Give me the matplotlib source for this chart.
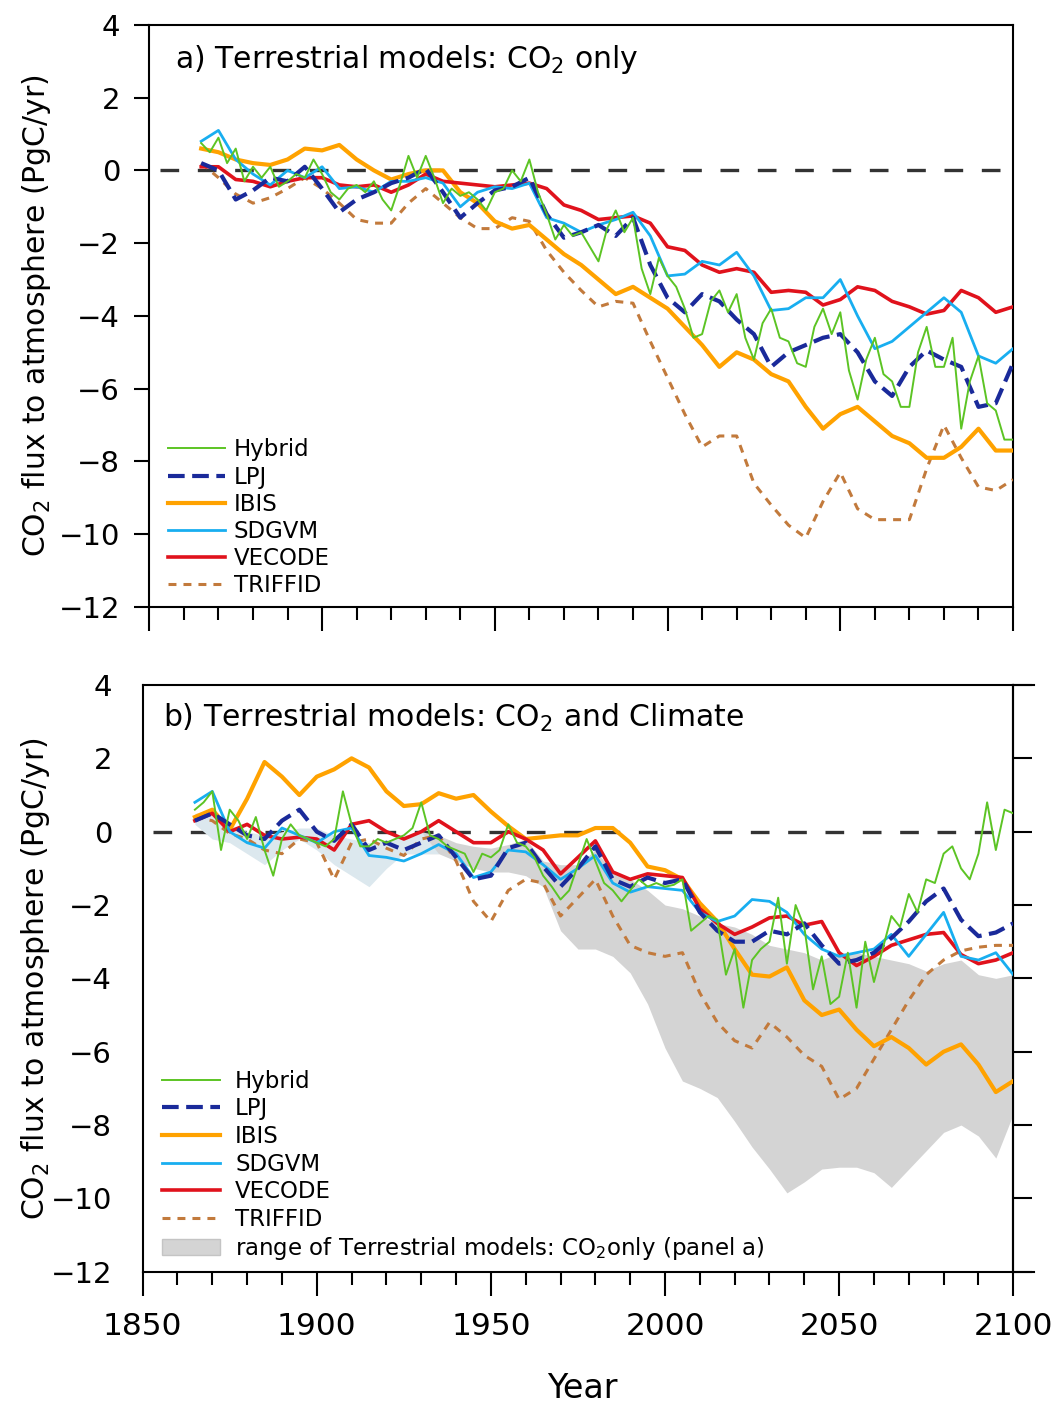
import numpy as np
import matplotlib
matplotlib.use("Agg")
import matplotlib.pyplot as plt
from matplotlib.lines import Line2D
from matplotlib.patches import Patch

# x grids (5-yr for most models, 2.5-yr for the noisier Hybrid run)
years = np.arange(1865, 2101, 5)
years_h = np.arange(1865, 2100.1, 2.5)

# ---- panel a: CO2 only ----
ibis_a = [0.6, 0.5, 0.3, 0.2, 0.15, 0.3, 0.6, 0.55, 0.7, 0.3,
          0.0, -0.25, -0.1, 0.0, 0.0, -0.6, -0.9, -1.4, -1.6, -1.5,
          -1.9, -2.3, -2.6, -3.0, -3.4, -3.2, -3.5, -3.8, -4.3, -4.8,
          -5.4, -5.0, -5.2, -5.6, -5.8, -6.5, -7.1, -6.7, -6.5, -6.9,
          -7.3, -7.5, -7.9, -7.9, -7.6, -7.1, -7.7, -7.7]
vecode_a = [0.1, 0.1, -0.25, -0.3, -0.45, -0.3, -0.2, -0.2, -0.4, -0.45,
            -0.4, -0.6, -0.4, -0.1, -0.3, -0.35, -0.4, -0.45, -0.4, -0.35,
            -0.5, -0.95, -1.1, -1.35, -1.3, -1.25, -1.45, -2.1, -2.2, -2.6,
            -2.8, -2.7, -2.8, -3.35, -3.3, -3.35, -3.7, -3.55, -3.2, -3.3,
            -3.6, -3.75, -3.95, -3.85, -3.3, -3.5, -3.9, -3.75]
lpj_a = [0.2, 0.0, -0.8, -0.55, -0.2, -0.3, 0.1, -0.5, -1.15, -0.8,
         -0.6, -0.35, -0.2, 0.05, -0.6, -1.3, -0.9, -0.55, -0.45, -0.2,
         -1.2, -1.85, -1.7, -1.5, -1.8, -1.3, -2.6, -3.5, -3.9, -3.4,
         -3.6, -4.1, -4.5, -5.4, -5.0, -4.8, -4.6, -4.5, -5.0, -5.8,
         -6.2, -5.4, -4.95, -5.2, -5.4, -6.5, -6.4, -5.3]
sdgvm_a = [0.8, 1.1, 0.3, -0.1, -0.4, 0.0, -0.2, 0.1, -0.5, -0.45,
           -0.6, -0.3, -0.3, -0.2, -0.35, -1.0, -0.6, -0.45, -0.5, -0.35,
           -1.3, -1.45, -1.7, -1.5, -1.35, -1.15, -1.8, -2.9, -2.85, -2.5,
           -2.6, -2.25, -2.9, -3.85, -3.8, -3.5, -3.5, -3.0, -4.0, -4.9,
           -4.7, -4.3, -3.9, -3.5, -3.9, -5.1, -5.3, -4.9]
triffid_a = [0.2, -0.2, -0.65, -0.9, -0.75, -0.5, -0.2, -0.5, -0.9, -1.35,
             -1.45, -1.45, -0.9, -0.5, -0.9, -1.3, -1.6, -1.6, -1.3, -1.4,
             -2.2, -2.8, -3.3, -3.75, -3.6, -3.65, -4.7, -5.7, -6.7, -7.6,
             -7.3, -7.3, -8.6, -9.2, -9.75, -10.1, -9.1, -8.3, -9.3, -9.6,
             -9.6, -9.6, -8.2, -7.0, -7.9, -8.7, -8.8, -8.5]
hybrid_a = [0.75, 0.5, 0.9, 0.2, 0.6, -0.3, 0.1, -0.2, 0.1, -0.45,
            -0.3, -0.1, -0.2, 0.3, -0.1, -0.6, -0.8, -0.5, -0.4, -0.6,
            -0.3, -0.8, -1.1, -0.4, 0.4, -0.2, 0.4, -0.2, -0.9, -0.5,
            -0.7, -0.6, -0.8, -1.1, -0.6, -0.5, 0.0, -0.3, 0.3, -0.6,
            -1.2, -1.9, -1.5, -1.8, -1.7, -2.1, -2.5, -1.6, -1.1, -1.7,
            -1.3, -2.7, -3.4, -2.4, -2.9, -3.2, -3.8, -4.6, -4.5, -3.6,
            -3.3, -3.9, -3.4, -4.6, -5.2, -4.2, -3.8, -4.6, -4.7, -5.3,
            -5.4, -4.3, -3.8, -4.5, -3.9, -5.5, -6.3, -5.2, -4.6, -5.6,
            -5.8, -6.5, -6.5, -5.0, -4.3, -5.4, -5.4, -4.6, -7.1, -5.8,
            -5.1, -6.4, -6.6, -7.4, -7.4]

# ---- panel b: CO2 and climate ----
ibis_b = [0.4, 0.6, 0.05, 0.9, 1.9, 1.5, 1.0, 1.5, 1.7, 2.0,
          1.75, 1.1, 0.7, 0.75, 1.05, 0.9, 1.0, 0.55, 0.15, -0.2,
          -0.15, -0.1, -0.1, 0.1, 0.1, -0.3, -0.95, -1.05, -1.3, -1.95,
          -2.45, -3.2, -3.9, -3.95, -3.7, -4.6, -5.0, -4.85, -5.4, -5.85,
          -5.6, -5.9, -6.35, -6.0, -5.8, -6.35, -7.1, -6.8]
vecode_b = [0.3, 0.5, 0.0, 0.2, -0.1, -0.2, -0.15, -0.2, -0.5, 0.2,
            0.3, 0.0, -0.2, 0.0, 0.3, 0.0, -0.3, -0.3, 0.0, -0.2,
            -0.5, -1.15, -0.7, -0.25, -1.1, -1.3, -1.15, -1.2, -1.25, -2.1,
            -2.5, -2.8, -2.6, -2.35, -2.3, -2.55, -2.45, -3.3, -3.65, -3.4,
            -3.1, -2.95, -2.8, -2.75, -3.35, -3.6, -3.5, -3.3]
lpj_b = [0.3, 0.5, 0.2, -0.1, -0.2, 0.3, 0.6, 0.0, -0.25, 0.2,
         -0.5, -0.3, -0.5, -0.3, -0.1, -0.7, -1.3, -1.2, -0.45, -0.3,
         -0.95, -1.5, -1.0, -0.4, -1.3, -1.5, -1.25, -1.4, -1.3, -2.2,
         -2.7, -3.0, -3.0, -2.7, -2.8, -2.5, -3.1, -3.6, -3.5, -3.3,
         -2.9, -2.45, -1.9, -1.55, -2.4, -2.85, -2.75, -2.5]
sdgvm_b = [0.8, 1.1, 0.0, -0.3, -0.45, 0.1, -0.1, -0.3, 0.0, 0.1,
           -0.65, -0.7, -0.8, -0.6, -0.35, -0.6, -1.25, -1.1, -0.5, -0.55,
           -0.9, -1.3, -1.0, -0.65, -1.4, -1.65, -1.5, -1.55, -1.6, -2.2,
           -2.45, -2.3, -1.85, -1.9, -2.2, -2.8, -3.2, -3.4, -3.3, -3.2,
           -2.8, -3.4, -2.8, -2.2, -3.4, -3.5, -3.3, -3.9]
triffid_b = [0.4, 0.3, -0.05, -0.2, -0.5, -0.6, -0.2, -0.3, -1.3, -0.3,
             -0.2, -0.45, -0.65, -0.2, -0.1, -0.8, -1.9, -2.45, -1.6, -1.3,
             -1.4, -2.3, -1.8, -1.3, -2.3, -3.1, -3.3, -3.4, -3.3, -4.4,
             -5.2, -5.7, -5.9, -5.2, -5.6, -6.1, -6.4, -7.3, -7.0, -6.2,
             -5.4, -4.6, -3.9, -3.5, -3.25, -3.15, -3.1, -3.1]
hybrid_b = [0.6, 0.8, 1.1, -0.5, 0.6, 0.3, -0.2, 0.4, -0.5, -1.2,
            -0.2, 0.2, -0.1, -0.2, -0.3, -0.4, -0.2, 1.1, 0.2, -0.4,
            -0.4, -0.2, -0.3, -0.2, -0.1, 0.1, 0.8, -0.1, -0.2, -0.4,
            -0.5, -0.6, -1.1, -0.6, -0.7, -0.5, 0.2, -0.3, -0.4, -0.7,
            -1.2, -1.5, -1.85, -1.6, -0.9, -0.2, -0.8, -1.4, -1.6, -1.9,
            -1.6, -1.3, -1.5, -1.4, -1.5, -1.45, -1.3, -2.7, -2.5, -2.3,
            -2.4, -3.9, -3.2, -4.8, -3.5, -3.2, -3.0, -1.8, -3.6, -2.0,
            -2.6, -4.3, -3.4, -4.7, -4.5, -3.3, -4.8, -3.0, -4.1, -3.2,
            -2.3, -2.6, -1.7, -2.2, -1.3, -1.4, -0.6, -0.4, -1.0, -1.3,
            -0.6, 0.8, -0.5, 0.6, 0.5]

# envelope of the panel-a models, shown in panel b
range_hi = [0.5, 0.6, 0.2, 0.0, -0.1, 0.0, 0.1, 0.1, -0.1, -0.2,
            -0.3, -0.25, -0.1, 0.0, -0.1, -0.3, -0.4, -0.45, -0.35, -0.2,
            -0.8, -0.9, -0.9, -0.5, -1.1, -1.3, -1.6, -2.0, -2.1, -2.3,
            -2.5, -2.6, -2.8, -3.1, -3.2, -3.3, -3.5, -3.3, -3.3, -3.4,
            -3.5, -3.6, -3.8, -3.6, -3.5, -3.9, -4.0, -3.9]
range_lo = [0.2, -0.2, -0.3, -0.6, -0.9, -0.5, -0.2, -0.5, -0.9, -1.2,
            -1.5, -1.0, -0.6, -0.6, -0.6, -0.8, -1.0, -1.1, -1.1, -1.2,
            -1.5, -2.7, -3.2, -3.2, -3.4, -3.85, -4.7, -5.9, -6.8, -7.0,
            -7.25, -7.9, -8.6, -9.2, -9.85, -9.55, -9.2, -9.15, -9.15, -9.3,
            -9.7, -9.2, -8.7, -8.2, -8.0, -8.3, -8.9, -7.7]

models = ["Hybrid", "LPJ", "IBIS", "SDGVM", "VECODE", "TRIFFID"]
styles = {
    "Hybrid": dict(color="#5cc424", lw=1.4, ls="-"),
    "LPJ": dict(color="#1a2a9a", lw=3.0, ls=(0, (4, 1.8))),
    "IBIS": dict(color="#ffa200", lw=3.0, ls="-"),
    "SDGVM": dict(color="#18aef0", lw=2.0, ls="-"),
    "VECODE": dict(color="#e0121c", lw=2.6, ls="-"),
    "TRIFFID": dict(color="#c27a3c", lw=2.2, ls=(0, (2.6, 2.3))),
}
draw_order = ["TRIFFID", "IBIS", "VECODE", "SDGVM", "LPJ", "Hybrid"]

fig = plt.figure(figsize=(10.63, 14.06), dpi=100)
ax_a = fig.add_axes([0.1405, 0.5683, 0.8125, 0.414])
ax_b = fig.add_axes([0.1342, 0.0955, 0.819, 0.4173])


def draw(ax, data):
    ax.axhline(0, xmin=0.012, xmax=0.99, color="#333333", lw=2.4,
               ls=(0, (5.6, 5.6)), zorder=1)
    for name in draw_order:
        x = years_h if name == "Hybrid" else years
        ax.plot(x, data[name], zorder=3, **styles[name])
    ax.set_xlim(1850, 2100)
    ax.set_ylim(-12, 4)
    ax.set_xticks(np.arange(1850, 2101, 50))
    ax.set_xticks(np.arange(1850, 2101, 10), minor=True)
    ax.set_yticks(np.arange(-12, 4.1, 2))
    for s in ax.spines.values():
        s.set_linewidth(1.5)
    ax.set_ylabel("CO$_2$ flux to atmosphere (PgC/yr)", fontsize=21.5)


draw(ax_a, {"Hybrid": hybrid_a, "LPJ": lpj_a, "IBIS": ibis_a,
            "SDGVM": sdgvm_a, "VECODE": vecode_a, "TRIFFID": triffid_a})
draw(ax_b, {"Hybrid": hybrid_b, "LPJ": lpj_b, "IBIS": ibis_b,
            "SDGVM": sdgvm_b, "VECODE": vecode_b, "TRIFFID": triffid_b})

# range of panel a models, in panel b
yrs = np.array(years)
ax_b.fill_between(years, range_lo, range_hi, where=yrs >= 1930,
                  color="#d4d4d4", lw=0, zorder=2, interpolate=True)
ax_b.fill_between(years, range_lo, range_hi, where=yrs <= 1930,
                  color="#dce8ee", lw=0, zorder=2, interpolate=True)

# panel a ticks
ax_a.tick_params(axis="x", which="major", direction="out", length=17,
                 width=1.5, labelbottom=False)
ax_a.tick_params(axis="x", which="minor", direction="out", length=9,
                 width=1.5)
ax_a.tick_params(axis="y", direction="out", length=11, width=1.5,
                 labelsize=21, pad=10)
ax_a.yaxis.set_label_coords(-0.112, 0.5)

# panel b ticks: labels left, marks right
ax_b.tick_params(axis="x", which="major", direction="out", length=17,
                 width=1.5, labelsize=22.5, pad=12)
ax_b.tick_params(axis="x", which="minor", direction="out", length=9,
                 width=1.5)
ax_b.tick_params(axis="y", length=0, labelsize=21, pad=22)
ax_b.yaxis.set_label_coords(-0.104, 0.5)
sec = ax_b.secondary_yaxis("right")
sec.set_yticks(np.arange(-12, 4.1, 2))
sec.tick_params(direction="out", length=14, width=1.5, labelright=False)
sec.spines["right"].set_linewidth(1.5)
for yy in (0, 1):
    ax_b.add_line(Line2D([1, 1.024], [yy, yy], transform=ax_b.transAxes,
                         color="black", lw=1.5, clip_on=False))

ax_a.text(0.03, 0.94, "a) Terrestrial models: CO$_2$ only",
          transform=ax_a.transAxes, fontsize=21.5, va="center")
ax_b.text(0.023, 0.944, "b) Terrestrial models: CO$_2$ and Climate",
          transform=ax_b.transAxes, fontsize=21.5, va="center")

fig.text(0.548, 0.0128, "Year", fontsize=24, ha="center", va="center")

# legends
handles = [Line2D([], [], **styles[m]) for m in models]
ax_a.legend(handles, models, loc="lower left", bbox_to_anchor=(0.0217, 0.017),
            frameon=False, fontsize=16.5, handlelength=2.5, handletextpad=0.36,
            labelspacing=0.18, borderpad=0, borderaxespad=0)
patch = Patch(facecolor="#d4d4d4", edgecolor="#c4c4c4")
ax_b.legend(handles + [patch],
            models + ["range of Terrestrial models: CO$_2$only (panel a)"],
            loc="lower left", bbox_to_anchor=(0.022, 0.016), frameon=False,
            fontsize=16.5, handlelength=2.55, handletextpad=0.65,
            labelspacing=0.2, borderpad=0, borderaxespad=0)

fig.savefig("out.png", dpi=100)
